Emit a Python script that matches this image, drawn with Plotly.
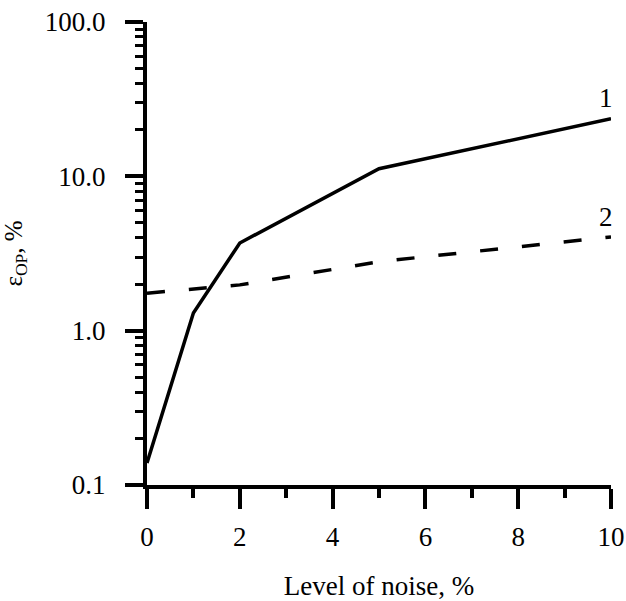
import math
import plotly.graph_objects as go

noise = [0, 1, 2, 5, 10]
eps_1 = [0.139, 1.30, 3.70, 11.2, 23.6]
eps_2 = [1.75, 1.85, 1.98, 2.80, 4.05]

x_ticks = [0, 2, 4, 6, 8, 10]
y_ticks = [0.1, 1, 10, 100]
y_ticktext = ["0.1", "1.0", "10.0", "100.0"]
y_minor = [m * d for d in (0.1, 1, 10) for m in range(2, 10)]

curve_labels = ["1", "2"]
label_x = [9.9, 9.9]
label_y = [32.0, 5.45]

FONT = "Liberation Serif"

fig = go.Figure()
fig.add_trace(go.Scatter(x=noise, y=eps_1, mode="lines",
                         line=dict(color="black", width=3.5), showlegend=False))
fig.add_trace(go.Scatter(x=noise, y=eps_2, mode="lines",
                         line=dict(color="black", width=3.5, dash="18px,24px"),
                         showlegend=False))

for t, xx, yy in zip(curve_labels, label_x, label_y):
    fig.add_annotation(x=xx, y=math.log10(yy), text=t, showarrow=False,
                       font=dict(family=FONT, size=27, color="black"))

fig.update_layout(
    width=626, height=601,
    margin=dict(l=147, r=15, t=22, b=116),
    paper_bgcolor="white", plot_bgcolor="white",
    font=dict(family=FONT, size=27, color="black"),
)
fig.update_xaxes(
    range=[0, 10], tickvals=x_ticks, ticktext=[str(v) for v in x_ticks],
    showline=True, linecolor="black", linewidth=4, automargin=False,
    ticks="outside", ticklen=20, tickwidth=4, tickcolor="black",
    minor=dict(dtick=1, ticks="outside", ticklen=9, tickwidth=4, tickcolor="black"),
    showgrid=False, zeroline=False, ticklabelstandoff=5,
    title=dict(text="Level of noise, %", font=dict(family=FONT, size=27), standoff=34),
    tickfont=dict(family=FONT, size=27),
)
fig.update_yaxes(
    type="log", range=[-1, 2], tickvals=y_ticks, ticktext=y_ticktext,
    showline=True, linecolor="black", linewidth=4, automargin=False,
    ticks="outside", ticklen=18, tickwidth=4, tickcolor="black",
    minor=dict(tickvals=y_minor, ticks="outside", ticklen=8, tickwidth=3, tickcolor="black"),
    showgrid=False, zeroline=False, ticklabelstandoff=14,
    title=dict(text="ε<sub>OP</sub>, %", font=dict(family=FONT, size=25), standoff=18),
    tickfont=dict(family=FONT, size=27),
)

fig.write_html("out.html")
